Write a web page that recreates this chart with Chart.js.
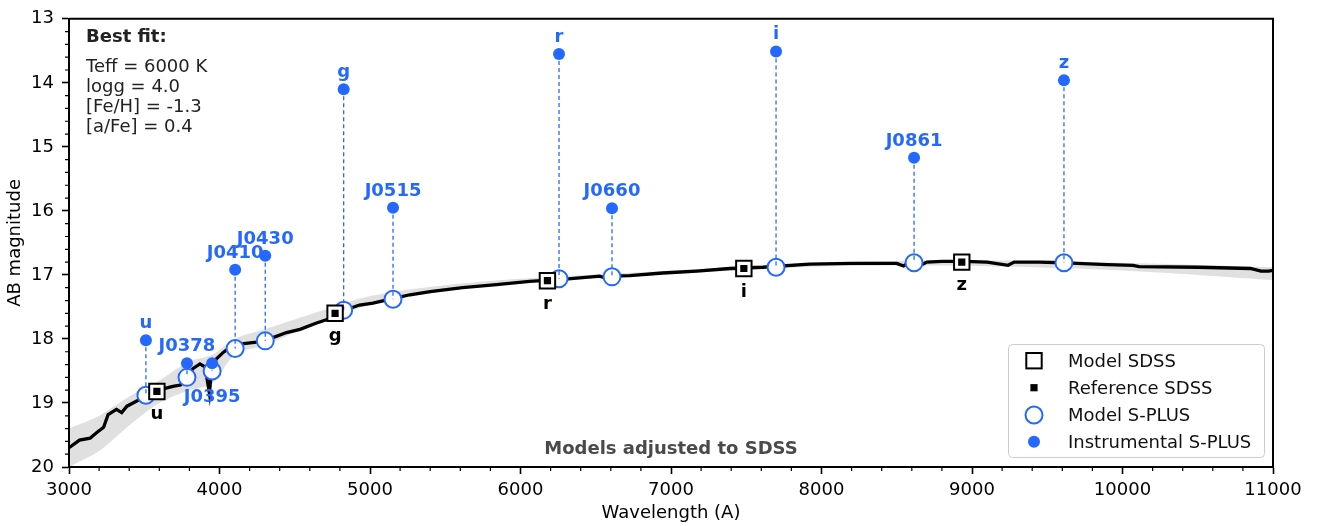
<!DOCTYPE html>
<html>
<head>
<meta charset="utf-8">
<script src="https://cdn.jsdelivr.net/npm/chart.js@4/dist/chart.umd.min.js"></script>
<style>
 html,body{margin:0;padding:0;background:#fff}
 #wrap{width:1321px;height:526px;position:relative}
</style>
</head>
<body>
<div id="wrap"><canvas id="chart"></canvas></div>
<script>
// best-fit model spectrum (AB mag vs wavelength in A)
const specWave=[3000,3070,3140,3185,3230,3260,3315,3350,3385,3450,3515,3605,3690,3740,3770,3825,3870,3905,3933,3950,3980,4025,4070,4135,4245,4355,4445,4535,4645,4710,4770,4845,4930,5020,5150,5265,5400,5615,5840,6060,6280,6525,6565,6600,6725,6945,7170,7390,7610,7920,8200,8500,8545,8580,8665,8700,8800,8950,9100,9240,9280,9450,9600,9700,9900,10070,10110,10500,10850,10920,10970,11000];
const specMag=[19.70,19.58,19.55,19.46,19.38,19.18,19.10,19.15,19.05,18.97,18.90,18.79,18.74,18.72,18.62,18.46,18.39,18.44,18.85,18.41,18.31,18.21,18.13,18.08,18.05,17.98,17.90,17.85,17.75,17.70,17.63,17.54,17.47,17.44,17.37,17.31,17.26,17.20,17.15,17.10,17.07,17.02,17.05,17.02,17.01,16.97,16.94,16.90,16.88,16.83,16.82,16.82,16.86,16.81,16.84,16.80,16.79,16.79,16.80,16.85,16.80,16.80,16.81,16.82,16.84,16.85,16.87,16.88,16.90,16.94,16.94,16.93];

// spread of the other models (grey envelope)
const bandWave=[3000,3200,3400,3600,3800,3950,4100,4300,4600,5000,5500,6000,7000,8000,9000,10000,11000];
const bandBright=[19.40,19.20,18.90,18.65,18.35,18.25,18.00,17.85,17.62,17.33,17.16,17.06,16.93,16.81,16.77,16.81,16.88];
const bandFaint=[20.00,19.75,19.35,19.00,18.80,18.70,18.25,18.10,17.80,17.47,17.25,17.13,16.99,16.87,16.86,16.93,17.08];

// S-PLUS filters
const splusNames=['u','J0378','J0395','J0410','J0430','g','J0515','r','J0660','i','J0861','z'];
const splusWave=[3511,3784,3951,4104,4304,4825,5153,6256,6608,7698,8615,9611];
const splusInst=[18.02,18.38,18.38,16.92,16.70,14.10,15.95,13.55,15.96,13.51,15.17,13.96];
const splusModel=[18.88,18.60,18.50,18.15,18.03,17.55,17.38,17.06,17.03,16.88,16.81,16.81];

// SDSS filters
const sdssNames=['u','g','r','i','z'];
const sdssWave=[3584,4768,6179,7484,8932];
const sdssModel=[18.82,17.60,17.09,16.90,16.80];
const sdssRef=[18.82,17.60,17.09,16.90,16.80];

const bestFit=['Teff = 6000 K','logg = 4.0','[Fe/H] = -1.3','[a/Fe] = 0.4'];
const legendLabels=['Model SDSS','Reference SDSS','Model S-PLUS','Instrumental S-PLUS'];

const BLUE='#2468ff';
const FONT='"DejaVu Sans", sans-serif';
const xy=(xs,ys)=>xs.map((x,i)=>({x,y:ys[i]}));

const links=[];
splusWave.forEach((w,i)=>{links.push({x:w,y:splusInst[i]},{x:w,y:splusModel[i]},{x:w,y:null});});

const extras={
 id:'extras',
 afterDraw(chart){
   const {ctx,chartArea:a,scales:{x,y}}=chart;
   ctx.save();
   // frame top/right
   ctx.strokeStyle='#000';ctx.lineWidth=2;
   ctx.beginPath();
   ctx.moveTo(a.left,a.top);ctx.lineTo(a.right,a.top);ctx.lineTo(a.right,a.bottom);
   ctx.stroke();
   // minor ticks
   ctx.lineWidth=1.2;ctx.beginPath();
   for(let w=3200;w<11000;w+=200){
     if(w%1000===0) continue;
     const px=x.getPixelForValue(w);
     ctx.moveTo(px,a.bottom);ctx.lineTo(px,a.bottom+4);
   }
   for(let k=1;k<35;k++){
     if(k%5===0) continue;
     const py=y.getPixelForValue(13+k*0.2);
     ctx.moveTo(a.left,py);ctx.lineTo(a.left-4,py);
   }
   ctx.stroke();

   // filter labels
   ctx.font='bold 18px '+FONT;ctx.textAlign='center';ctx.textBaseline='alphabetic';
   ctx.fillStyle=BLUE;
   splusNames.forEach((n,i)=>{
     const px=x.getPixelForValue(splusWave[i]);
     if(n==='J0395') ctx.fillText(n,px,y.getPixelForValue(splusModel[i])+31);
     else ctx.fillText(n,px,y.getPixelForValue(splusInst[i])-12);
   });
   ctx.fillStyle='#000';
   sdssNames.forEach((n,i)=>{
     ctx.fillText(n,x.getPixelForValue(sdssWave[i]),y.getPixelForValue(sdssModel[i])+28);
   });

   // best fit box text
   ctx.textAlign='left';ctx.fillStyle='#222';
   ctx.fillText('Best fit:',86,42);
   ctx.font='18px '+FONT;
   bestFit.forEach((t,i)=>ctx.fillText(t,86,72+i*20.1));

   ctx.font='bold 18px '+FONT;ctx.fillStyle='#4a4a4a';ctx.textAlign='center';
   ctx.fillText('Models adjusted to SDSS',(a.left+a.right)/2,454);

   // axis titles
   ctx.fillStyle='#000';ctx.font='18px '+FONT;
   ctx.fillText('Wavelength (A)',(a.left+a.right)/2,518);
   ctx.save();
   ctx.translate(15.5,(a.top+a.bottom)/2);ctx.rotate(-Math.PI/2);
   ctx.textBaseline='middle';ctx.fillText('AB magnitude',0,0);
   ctx.restore();

   // legend
   const lx=1008,ly=344,lw=256,lh=113;
   ctx.fillStyle='rgba(255,255,255,0.85)';ctx.strokeStyle='#cccccc';ctx.lineWidth=1;
   ctx.beginPath();ctx.roundRect(lx+0.5,ly+0.5,lw,lh,4);ctx.fill();ctx.stroke();
   const rows=[360.7,387.7,415,441.7],mx=1034;
   ctx.strokeStyle='#000';ctx.lineWidth=2;ctx.fillStyle='#fff';
   ctx.fillRect(mx-7.7,rows[0]-7.7,15.4,15.4);ctx.strokeRect(mx-7.7,rows[0]-7.7,15.4,15.4);
   ctx.fillStyle='#000';ctx.fillRect(mx-3.6,rows[1]-3.6,7.2,7.2);
   ctx.strokeStyle=BLUE;ctx.fillStyle='#fff';
   ctx.beginPath();ctx.arc(mx,rows[2],8.5,0,Math.PI*2);ctx.fill();ctx.stroke();
   ctx.fillStyle=BLUE;ctx.beginPath();ctx.arc(mx,rows[3],6,0,Math.PI*2);ctx.fill();
   ctx.fillStyle='#111';ctx.textAlign='left';ctx.font='18px '+FONT;
   legendLabels.forEach((t,i)=>ctx.fillText(t,1068,rows[i]+6));
   ctx.restore();
 }
};

new Chart(document.getElementById('chart'),{
 type:'scatter',
 data:{datasets:[
   {type:'line',data:xy(bandWave,bandBright),borderColor:'transparent',borderWidth:0,pointRadius:0,fill:false,tension:0.3,order:10},
   {type:'line',data:xy(bandWave,bandFaint),borderColor:'transparent',borderWidth:0,pointRadius:0,fill:'-1',backgroundColor:'rgba(0,0,0,0.12)',tension:0.3,order:10},
   {type:'line',data:xy(specWave,specMag),borderColor:'#000',borderWidth:3.3,pointRadius:0,tension:0,fill:false,order:9},
   {label:'Model S-PLUS',data:xy(splusWave,splusModel),pointStyle:'circle',pointRadius:8.5,borderWidth:2,borderColor:BLUE,backgroundColor:'#fff',order:8},
   {type:'line',data:links,borderColor:BLUE,borderWidth:1.3,borderDash:[4,3],pointRadius:0,spanGaps:false,fill:false,order:7},
   {label:'Instrumental S-PLUS',data:xy(splusWave,splusInst),pointStyle:'circle',pointRadius:6,borderWidth:0,backgroundColor:BLUE,order:6},
   {label:'Model SDSS',data:xy(sdssWave,sdssModel),pointStyle:'rect',pointRadius:10.9,borderWidth:2,borderColor:'#000',backgroundColor:'#fff',order:5},
   {label:'Reference SDSS',data:xy(sdssWave,sdssRef),pointStyle:'rect',pointRadius:5.1,borderWidth:0,backgroundColor:'#000',order:4}
 ]},
 options:{
   responsive:true,maintainAspectRatio:false,animation:false,events:[],
   layout:{padding:{top:10,right:48,left:0,bottom:0}},
   plugins:{legend:{display:false},tooltip:{enabled:false}},
   scales:{
     x:{type:'linear',min:3000,max:11000,
        ticks:{stepSize:1000,color:'#000',font:{family:FONT,size:18},padding:6,maxRotation:0,callback:v=>String(v)},
        grid:{drawOnChartArea:false,tickLength:7,tickWidth:1.6,tickColor:'#000'},
        border:{color:'#000',width:2},
        afterFit:s=>{s.height=59;}},
     y:{type:'linear',reverse:true,min:13,max:20,
        ticks:{stepSize:1,color:'#000',font:{family:FONT,size:18},padding:8,callback:v=>String(v)},
        grid:{drawOnChartArea:false,tickLength:7,tickWidth:1.6,tickColor:'#000'},
        border:{color:'#000',width:2},
        afterFit:s=>{s.width=69;}}
   }
 },
 plugins:[extras]
});
</script>
</body>
</html>
